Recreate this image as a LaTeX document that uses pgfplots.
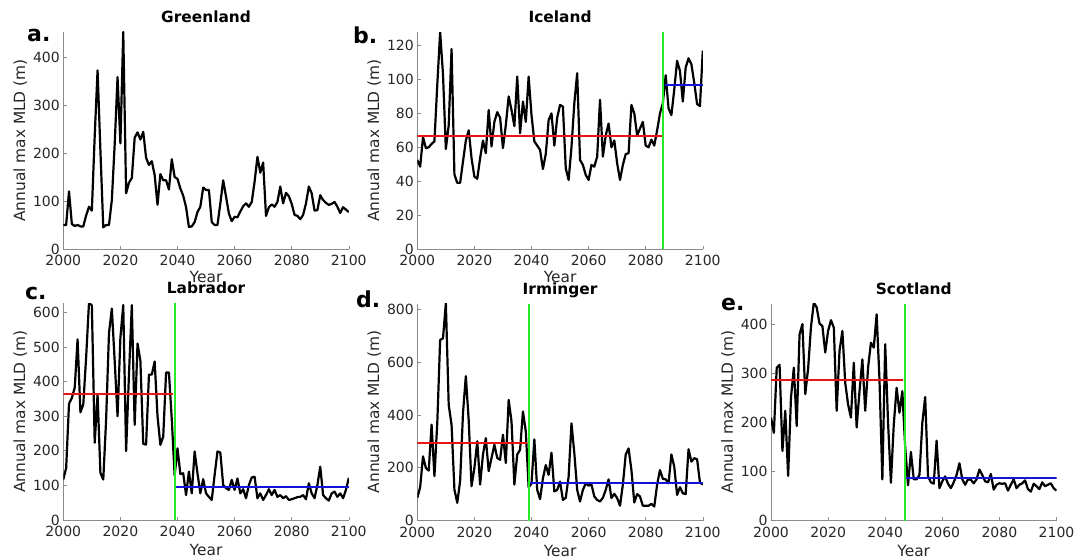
\documentclass[border=0pt]{standalone}
\usepackage{pgfplots}
\pgfplotsset{compat=1.18}
\usepackage{pgfplotstable}
\usepackage{fontspec}
\setmainfont{DejaVu Sans}

\definecolor{mred}{RGB}{235,20,20}
\definecolor{mblue}{RGB}{20,20,215}
\definecolor{mgreen}{RGB}{40,232,40}
\definecolor{axgray}{RGB}{140,140,140}
\definecolor{txt}{RGB}{38,38,38}

\pgfplotstableread[row sep=\\]{
year mld\\
2000 50\\ 2001 50\\ 2002 120\\ 2003 52\\ 2004 48\\ 2005 50\\ 2006 47\\ 2007 47\\ 2008 70\\ 2009 88\\
2010 80\\ 2011 235\\ 2012 372\\ 2013 205\\ 2014 45\\ 2015 50\\ 2016 50\\ 2017 102\\ 2018 218\\ 2019 358\\
2020 220\\ 2021 452\\ 2022 116\\ 2023 138\\ 2024 148\\ 2025 232\\ 2026 243\\ 2027 228\\ 2028 244\\ 2029 190\\
2030 175\\ 2031 183\\ 2032 154\\ 2033 92\\ 2034 156\\ 2035 143\\ 2036 143\\ 2037 124\\ 2038 187\\ 2039 150\\
2040 146\\ 2041 126\\ 2042 111\\ 2043 87\\ 2044 46\\ 2045 47\\ 2046 56\\ 2047 77\\ 2048 88\\ 2049 128\\
2050 123\\ 2051 123\\ 2052 56\\ 2053 50\\ 2054 50\\ 2055 95\\ 2056 143\\ 2057 109\\ 2058 74\\ 2059 58\\
2060 67\\ 2061 66\\ 2062 78\\ 2063 89\\ 2064 95\\ 2065 88\\ 2066 98\\ 2067 140\\ 2068 192\\ 2069 159\\
2070 180\\ 2071 69\\ 2072 87\\ 2073 93\\ 2074 88\\ 2075 98\\ 2076 130\\ 2077 95\\ 2078 117\\ 2079 110\\
2080 94\\ 2081 71\\ 2082 69\\ 2083 62\\ 2084 71\\ 2085 95\\ 2086 130\\ 2087 116\\ 2088 80\\ 2089 81\\
2090 112\\ 2091 102\\ 2092 96\\ 2093 92\\ 2094 94\\ 2095 98\\ 2096 88\\ 2097 75\\ 2098 87\\ 2099 82\\
2100 77\\
}\dataA

\pgfplotstableread[row sep=\\]{
year mld\\
2000 52.5\\ 2001 48.6\\ 2002 66\\ 2003 59.5\\ 2004 60\\ 2005 62\\ 2006 63.5\\ 2007 97\\ 2008 128\\ 2009 103\\
2010 59\\ 2011 73\\ 2012 118\\ 2013 44\\ 2014 39\\ 2015 39\\ 2016 51.5\\ 2017 64\\ 2018 70\\ 2019 53.5\\
2020 42.7\\ 2021 41.4\\ 2022 53.5\\ 2023 64\\ 2024 56.5\\ 2025 82\\ 2026 60.5\\ 2027 75\\ 2028 80.7\\ 2029 77.5\\
2030 59.5\\ 2031 73\\ 2032 90\\ 2033 82\\ 2034 72.5\\ 2035 101.7\\ 2036 68.3\\ 2037 87\\ 2038 75\\ 2039 101.7\\
2040 79\\ 2041 63.5\\ 2042 61\\ 2043 58.4\\ 2044 47.2\\ 2045 56\\ 2046 76\\ 2047 80\\ 2048 61\\ 2049 77.5\\
2050 85\\ 2051 84\\ 2052 47.6\\ 2053 40.7\\ 2054 60\\ 2055 86\\ 2056 103.7\\ 2057 52.5\\ 2058 49.6\\ 2059 43.7\\
2060 40.7\\ 2061 49.6\\ 2062 48.6\\ 2063 54.5\\ 2064 88\\ 2065 54.5\\ 2066 67\\ 2067 74\\ 2068 60\\ 2069 64\\
2070 50.6\\ 2071 40.7\\ 2072 49.6\\ 2073 56\\ 2074 56.5\\ 2075 85\\ 2076 80\\ 2077 67\\ 2078 71\\ 2079 75\\
2080 61\\ 2081 60\\ 2082 64.5\\ 2083 61\\ 2084 70\\ 2085 80\\ 2086 86\\ 2087 102.5\\ 2088 83\\ 2089 79\\
2090 94\\ 2091 111\\ 2092 105\\ 2093 87\\ 2094 107\\ 2095 112.5\\ 2096 109\\ 2097 98\\ 2098 85.5\\ 2099 84.3\\
2100 117\\
}\dataB

\pgfplotstableread[row sep=\\]{
year mld\\
2000 117\\ 2001 150\\ 2002 336\\ 2003 353\\ 2004 382\\ 2005 522\\ 2006 311\\ 2007 334\\ 2008 470\\ 2009 628\\
2010 620\\ 2011 223\\ 2012 363\\ 2013 136\\ 2014 117\\ 2015 290\\ 2016 540\\ 2017 611\\ 2018 459\\ 2019 300\\
2020 527\\ 2021 621\\ 2022 199\\ 2023 420\\ 2024 621\\ 2025 275\\ 2026 510\\ 2027 460\\ 2028 220\\ 2029 218\\
2030 420\\ 2031 420\\ 2032 458\\ 2033 300\\ 2034 217\\ 2035 241\\ 2036 426\\ 2037 426\\ 2038 290\\ 2039 128\\
2040 207\\ 2041 133\\ 2042 135\\ 2043 72\\ 2044 140\\ 2045 77\\ 2046 198\\ 2047 135\\ 2048 77\\ 2049 118\\
2050 77\\ 2051 67\\ 2052 58\\ 2053 130\\ 2054 198\\ 2055 195\\ 2056 101\\ 2057 92\\ 2058 87\\ 2059 116\\
2060 87\\ 2061 120\\ 2062 77\\ 2063 89\\ 2064 63\\ 2065 101\\ 2066 123\\ 2067 125\\ 2068 63\\ 2069 77\\
2070 58\\ 2071 72\\ 2072 89\\ 2073 72\\ 2074 87\\ 2075 67\\ 2076 72\\ 2077 63\\ 2078 69\\ 2079 58\\
2080 60\\ 2081 63\\ 2082 66\\ 2083 67\\ 2084 72\\ 2085 60\\ 2086 106\\ 2087 77\\ 2088 63\\ 2089 101\\
2090 154\\ 2091 72\\ 2092 63\\ 2093 56\\ 2094 77\\ 2095 82\\ 2096 67\\ 2097 77\\ 2098 63\\ 2099 87\\
2100 122\\
}\dataC

\pgfplotstableread[row sep=\\]{
year mld\\
2000 86\\ 2001 126\\ 2002 243\\ 2003 199\\ 2004 189\\ 2005 363\\ 2006 168\\ 2007 370\\ 2008 684\\ 2009 690\\
2010 823\\ 2011 438\\ 2012 363\\ 2013 117\\ 2014 67\\ 2015 150\\ 2016 406\\ 2017 547\\ 2018 380\\ 2019 130\\
2020 199\\ 2021 300\\ 2022 136\\ 2023 250\\ 2024 312\\ 2025 187\\ 2026 237\\ 2027 287\\ 2028 237\\ 2029 230\\
2030 325\\ 2031 218\\ 2032 457\\ 2033 375\\ 2034 136\\ 2035 250\\ 2036 268\\ 2037 413\\ 2038 338\\ 2039 125\\
2040 140\\ 2041 307\\ 2042 116\\ 2043 81\\ 2044 160\\ 2045 210\\ 2046 173\\ 2047 257\\ 2048 110\\ 2049 116\\
2050 147\\ 2051 78\\ 2052 86\\ 2053 166\\ 2054 368\\ 2055 255\\ 2056 116\\ 2057 72\\ 2058 116\\ 2059 141\\
2060 132\\ 2061 136\\ 2062 91\\ 2063 78\\ 2064 72\\ 2065 86\\ 2066 116\\ 2067 156\\ 2068 85\\ 2069 101\\
2070 85\\ 2071 56\\ 2072 136\\ 2073 250\\ 2074 273\\ 2075 191\\ 2076 68\\ 2077 100\\ 2078 91\\ 2079 56\\
2080 56\\ 2081 56\\ 2082 63\\ 2083 53\\ 2084 136\\ 2085 191\\ 2086 158\\ 2087 156\\ 2088 141\\ 2089 250\\
2090 204\\ 2091 97\\ 2092 126\\ 2093 103\\ 2094 100\\ 2095 270\\ 2096 223\\ 2097 236\\ 2098 232\\ 2099 144\\
2100 136\\
}\dataD

\pgfplotstableread[row sep=\\]{
year mld\\
2000 210\\ 2001 179\\ 2002 312\\ 2003 318\\ 2004 142\\ 2005 224\\ 2006 91\\ 2007 251\\ 2008 312\\ 2009 193\\
2010 380\\ 2011 401\\ 2012 258\\ 2013 310\\ 2014 395\\ 2015 445\\ 2016 435\\ 2017 402\\ 2018 397\\ 2019 343\\
2020 387\\ 2021 409\\ 2022 394\\ 2023 224\\ 2024 346\\ 2025 387\\ 2026 281\\ 2027 237\\ 2028 210\\ 2029 322\\
2030 190\\ 2031 264\\ 2032 329\\ 2033 224\\ 2034 312\\ 2035 363\\ 2036 353\\ 2037 421\\ 2038 287\\ 2039 84\\
2040 360\\ 2041 200\\ 2042 77\\ 2043 196\\ 2044 271\\ 2045 220\\ 2046 264\\ 2047 150\\ 2048 72\\ 2049 140\\
2050 84\\ 2051 84\\ 2052 93\\ 2053 199\\ 2054 252\\ 2055 90\\ 2056 78\\ 2057 75\\ 2058 163\\ 2059 66\\
2060 80\\ 2061 90\\ 2062 75\\ 2063 66\\ 2064 78\\ 2065 93\\ 2066 117\\ 2067 84\\ 2068 73\\ 2069 84\\
2070 83\\ 2071 76\\ 2072 84\\ 2073 104\\ 2074 93\\ 2075 80\\ 2076 78\\ 2077 95\\ 2078 63\\ 2079 73\\
2080 76\\ 2081 75\\ 2082 76\\ 2083 61\\ 2084 73\\ 2085 84\\ 2086 66\\ 2087 73\\ 2088 76\\ 2089 82\\
2090 64\\ 2091 59\\ 2092 75\\ 2093 70\\ 2094 64\\ 2095 78\\ 2096 70\\ 2097 73\\ 2098 76\\ 2099 66\\
2100 61\\
}\dataE

\pgfplotsset{
  mld/.style={
    scale only axis, width=285.5pt, height=217pt,
    anchor=south west,
    xmin=2000, xmax=2100, ymin=0,
    xtick={2000,2020,...,2100},
    axis lines=left,
    axis line style={-, draw=axgray, line width=0.6pt},
    tick style={draw=axgray, line width=0.6pt},
    major tick length=3.5pt, tick align=inside,
    tick label style={font=\fontsize{14}{16}\selectfont, text=txt},
    xticklabel style={yshift=-3pt},
    /pgf/number format/1000 sep={},
    /pgf/number format/assume math mode=true,
    xlabel={Year}, ylabel={Annual max MLD (m)},
    label style={font=\fontsize{15.4}{18}\selectfont, text=txt},
    xlabel style={at={(axis description cs:0.5,-0.1636)}, anchor=base},
    ylabel style={at={(axis description cs:-0.1506,0.5)}, anchor=center},
    title style={at={(axis description cs:0.5,1.0157)}, anchor=base,
                 font=\bfseries\fontsize{15.4}{18}\selectfont},
  },
  toprow/.style={xlabel style={at={(axis description cs:0.5,-0.1545)}}},
  dataline/.style={black, line width=2.2pt, line join=round},
  meanred/.style={mred, line width=2pt},
  meanblue/.style={mblue, line width=2pt},
  breakline/.style={mgreen, line width=2pt},
}

\begin{document}
\begin{tikzpicture}[x=1pt,y=1pt]
\path[use as bounding box] (0,0) rectangle (1074,558);

% a. Greenland
\begin{axis}[mld, toprow, at={(63.3pt,309pt)}, ymax=452, ytick={0,100,...,400}, title={Greenland}]
  \addplot[dataline] table[x=year,y=mld] {\dataA};
\end{axis}

% b. Iceland
\begin{axis}[mld, toprow, at={(417.3pt,309pt)}, ymax=128, ytick={0,20,...,120}, title={Iceland}]
  \addplot[dataline] table[x=year,y=mld] {\dataB};
  \addplot[meanred] coordinates {(2000,66.5) (2085.7,66.5)};
  \addplot[meanblue] coordinates {(2086.6,97) (2100,97)};
  \addplot[breakline] coordinates {(2086.1,0) (2086.1,128)};
\end{axis}

% c. Labrador
\begin{axis}[mld, at={(63.3pt,38pt)}, ymax=627, ytick={0,100,...,600}, title={Labrador}]
  \addplot[dataline] table[x=year,y=mld] {\dataC};
  \addplot[meanred] coordinates {(2000,365) (2038.5,365)};
  \addplot[meanblue] coordinates {(2039.5,95) (2100,95)};
  \addplot[breakline] coordinates {(2039,0) (2039,627)};
\end{axis}

% d. Irminger
\begin{axis}[mld, at={(417.3pt,37.5pt)}, ymax=822, ytick={0,200,...,800}, title={Irminger}]
  \addplot[dataline] table[x=year,y=mld] {\dataD};
  \addplot[meanred] coordinates {(2000,295) (2038.5,295)};
  \addplot[meanblue] coordinates {(2039.5,141) (2100,141)};
  \addplot[breakline] coordinates {(2039,0) (2039,822)};
\end{axis}

% e. Scotland
\begin{axis}[mld, at={(771pt,37.5pt)}, ymax=443, ytick={0,100,...,400}, title={Scotland}]
  \addplot[dataline] table[x=year,y=mld] {\dataE};
  \addplot[meanred] coordinates {(2000,286) (2046.4,286)};
  \addplot[meanblue] coordinates {(2047.4,87) (2100,87)};
  \addplot[breakline] coordinates {(2046.8,0) (2046.8,443)};
\end{axis}

% panel letters
\begin{scope}[every node/.style={anchor=base west, inner sep=0pt, font=\bfseries\fontsize{22}{24}\selectfont}]
  \node at (27,516) {a.};
  \node at (353,514) {b.};
  \node at (25,259) {c.};
  \node at (356,251) {d.};
  \node at (721,248) {e.};
\end{scope}
\end{tikzpicture}
\end{document}
